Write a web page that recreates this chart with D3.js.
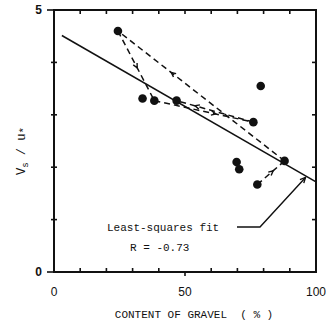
<!DOCTYPE html>
<html>
<head>
<meta charset="utf-8">
<script src="https://cdn.jsdelivr.net/npm/d3@7"></script>
<style>
  body { margin: 0; background: #fff; }
  svg { display: block; }
</style>
</head>
<body>
<div id="chart"></div>
<script>
// gravel content (%) and Vs/u*
const gravel = [24.4, 33.8, 38.3, 46.8, 78.9, 76.1, 88.0, 69.7, 70.7, 77.6];
const vsu = [4.60, 3.31, 3.27, 3.27, 3.55, 2.86, 2.12, 2.10, 1.96, 1.67];

// dashed trajectory (indices into the arrays above), drawn in order
const pathOrder = [9, 6, 0, 2, 5, 3];
const arrowAt = [0.58, 0.68, 0.53, 0.62, 0.76];

// least-squares fit
const fitX = [3, 100];
const fitSlope = -0.0288;
const fitIntercept = 4.60;

const xTicks = [0, 50, 100];
const yTicks = [0, 5];

const width = 326, height = 327;
const margin = { top: 10, right: 10, bottom: 55, left: 54 };

const svg = d3.select('#chart').append('svg')
  .attr('width', width)
  .attr('height', height);

const x = d3.scaleLinear().domain([0, 100]).range([margin.left, width - margin.right]);
const y = d3.scaleLinear().domain([0, 5]).range([height - margin.bottom, margin.top]);

const ink = '#111';
const mono = '"Liberation Mono", "DejaVu Sans Mono", monospace';

// frame
svg.append('rect')
  .attr('x', x(0)).attr('y', y(5))
  .attr('width', x(100) - x(0)).attr('height', y(0) - y(5))
  .attr('fill', 'none').attr('stroke', ink).attr('stroke-width', 2);

// ticks
const minorX = d3.range(10, 100, 10);
const minorY = d3.range(1, 5, 1);
const g = svg.append('g').attr('stroke', ink).attr('stroke-width', 1.6);
g.selectAll('.bt').data(minorX).enter().append('line')
  .attr('x1', d => x(d)).attr('x2', d => x(d))
  .attr('y1', y(0)).attr('y2', d => d === 50 ? y(0) + 4 : y(0) - 4);
g.selectAll('.tt').data(minorX).enter().append('line')
  .attr('x1', d => x(d)).attr('x2', d => x(d))
  .attr('y1', y(5)).attr('y2', y(5) + 4);
g.selectAll('.lt').data(minorY).enter().append('line')
  .attr('x1', x(0) - 3).attr('x2', x(0) + 3)
  .attr('y1', d => y(d)).attr('y2', d => y(d));
g.selectAll('.rt').data(minorY).enter().append('line')
  .attr('x1', x(100) - 4).attr('x2', x(100))
  .attr('y1', d => y(d)).attr('y2', d => y(d));
// stubs at 0 and 5 on the left
g.selectAll('.ly').data(yTicks).enter().append('line')
  .attr('x1', x(0) - 7).attr('x2', x(0))
  .attr('y1', d => y(d)).attr('y2', d => y(d));

// tick labels
svg.selectAll('.yl').data(yTicks).enter().append('text')
  .attr('x', x(0) - 12).attr('y', d => y(d) + 4)
  .attr('text-anchor', 'end')
  .style('font-family', 'Arial, "Liberation Sans", sans-serif')
  .style('font-size', '12px').style('font-weight', 'bold')
  .attr('fill', ink)
  .text(d => d);
svg.selectAll('.xl').data(xTicks).enter().append('text')
  .attr('x', d => x(d)).attr('y', y(0) + 24)
  .attr('text-anchor', 'middle')
  .style('font-family', 'Arial, "Liberation Sans", sans-serif')
  .style('font-size', '12px')
  .attr('fill', ink)
  .text(d => d);

// axis titles
svg.append('text')
  .attr('x', 194).attr('y', y(0) + 46)
  .attr('text-anchor', 'middle')
  .style('font-family', mono).style('font-size', '11px')
  .attr('fill', ink)
  .attr('xml:space', 'preserve')
  .text('CONTENT OF GRAVEL  ( % )');

const yt = svg.append('text')
  .attr('transform', `translate(25, ${(y(0) + y(5)) / 2 + 10}) rotate(-90)`)
  .attr('text-anchor', 'middle')
  .style('font-family', mono).style('font-size', '12px')
  .attr('fill', ink);
yt.append('tspan').text('V');
yt.append('tspan').attr('dy', 3).style('font-size', '9px').text('s');
yt.append('tspan').attr('dy', -3).attr('xml:space', 'preserve').text(' / u');
yt.append('tspan').attr('dy', 2).style('font-size', '11px').text('*');

// fit line
const line = d3.line().x(d => x(d[0])).y(d => y(d[1]));
svg.append('path')
  .datum(fitX.map(v => [v, fitIntercept + fitSlope * v]))
  .attr('d', line)
  .attr('fill', 'none').attr('stroke', ink).attr('stroke-width', 1.5);

// dashed trajectory with arrowheads mid-segment
function arrowHead(px, py, ang, size) {
  const a1 = ang + Math.PI - 0.45, a2 = ang + Math.PI + 0.45;
  return `M${px + size * Math.cos(a1)},${py + size * Math.sin(a1)}L${px},${py}L${px + size * Math.cos(a2)},${py + size * Math.sin(a2)}`;
}
const segs = d3.pairs(pathOrder);
segs.forEach((s, i) => {
  const x1 = x(gravel[s[0]]), y1 = y(vsu[s[0]]);
  const x2 = x(gravel[s[1]]), y2 = y(vsu[s[1]]);
  svg.append('line')
    .attr('x1', x1).attr('y1', y1).attr('x2', x2).attr('y2', y2)
    .attr('stroke', ink).attr('stroke-width', 1.5)
    .attr('stroke-dasharray', '6,4');
  const t = arrowAt[i];
  const ang = Math.atan2(y2 - y1, x2 - x1);
  svg.append('path')
    .attr('d', arrowHead(x1 + (x2 - x1) * t, y1 + (y2 - y1) * t, ang, 5))
    .attr('fill', 'none').attr('stroke', ink).attr('stroke-width', 1.4);
});

// points
svg.selectAll('circle').data(gravel).enter().append('circle')
  .attr('cx', d => x(d))
  .attr('cy', (d, i) => y(vsu[i]))
  .attr('r', 4.3)
  .attr('fill', ink);

// annotation
svg.append('text')
  .attr('x', 107).attr('y', 231)
  .style('font-family', mono).style('font-size', '11px')
  .attr('fill', ink)
  .text('Least-squares fit');
svg.append('text')
  .attr('x', 130).attr('y', 251)
  .style('font-family', mono).style('font-size', '11px')
  .attr('fill', ink)
  .text('R = -0.73');

const tipX = 96, tipY = fitIntercept + fitSlope * 96 - 0.03;
const ax = x(tipX), ay = y(tipY);
svg.append('path')
  .attr('d', `M237,227L260,227L${ax},${ay}`)
  .attr('fill', 'none').attr('stroke', ink).attr('stroke-width', 1.4);
svg.append('path')
  .attr('d', arrowHead(ax, ay, Math.atan2(ay - 227, ax - 260), 6))
  .attr('fill', 'none').attr('stroke', ink).attr('stroke-width', 1.4);
</script>
</body>
</html>
